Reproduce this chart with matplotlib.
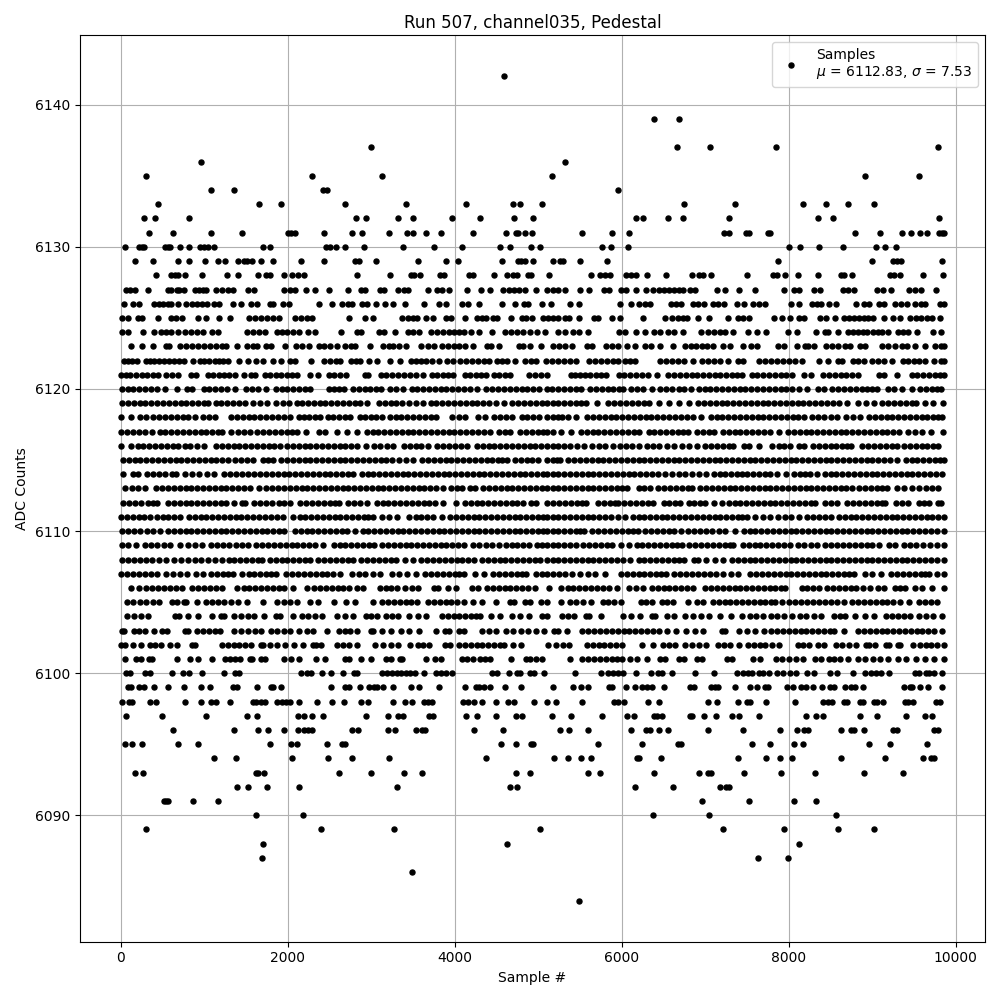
import matplotlib

# Headless backend
matplotlib.use("Agg")

import matplotlib.pyplot as plt

# Sample numbers, one list per ADC level
s_6142 = [4592]
s_6139 = [6384, 6684]
s_6137 = [2996, 6660, 7056, 7848, 9780]
s_6136 = [956, 5316]
s_6135 = [296, 2288, 3128, 5160, 8916, 9564]
s_6134 = [1076, 1352, 2420, 2468, 5952]
s_6133 = [440, 1652, 1916, 2684, 3416, 4136, 4700, 4784, 5048, 6744, 7356, 8172, 8448, 8712, 9024]
s_6132 = [272, 404, 812, 2816, 2936, 3320, 3500, 3968, 4304, 4712, 4940, 6168, 6252, 6552, 6732, 7284, 8352, 8532, 9792]
s_6131 = [332, 620, 1076, 1448, 2000, 2040, 2088, 2432, 2768, 2888, 3212, 3428, 3500, 3656, 3836, 4220, 4616, 4736, 4760, 4844, 4928,
          5520, 5880, 6084, 7224, 7284, 7492, 7524, 7752, 7780, 8796, 9096, 9360, 9468, 9576, 9660, 9792, 9832, 9856]
s_6130 = [56, 220, 248, 280, 532, 560, 588, 704, 812, 944, 992, 1040, 1112, 1700, 1784, 2456, 2504, 2576, 2684, 2912, 3380, 3752, 4088, 4544, 4664, 4916, 5024,
          5760, 5868, 6072, 8004, 8136, 8364, 8652, 9048, 9156, 9288]
s_6129 = [164, 380, 680, 812, 1004, 1160, 1244, 1400, 1472, 1508, 1568, 1676, 1820, 2156, 2432, 2804, 2852, 3056, 3560, 3896, 4040, 4568, 4760, 4796, 4844, 4940,
          5172, 5256, 5292, 5496, 5820, 7872, 9000, 9252, 9300, 9348, 9828]
s_6128 = [416, 596, 644, 680, 764, 968, 1268, 1400, 1640, 1736, 1784, 1952, 2048, 2120, 2192, 2828, 3224, 3476, 3512, 3584, 3824, 3872, 4172, 4220, 4472, 4628, 4700, 4748, 4880, 4916, 5132,
          5628, 5736, 5796, 5856, 6048, 6108, 6168, 6300, 6528, 6840, 6924, 6972, 7068, 7500, 7812, 7860, 7956, 8112, 8352, 8628, 8664, 8760, 9216, 9264, 9336, 9612, 9840]
s_6127 = [68, 116, 164, 320, 560, 596, 668, 692, 752, 884, 932, 980, 1016, 1136, 1208, 1280, 1340, 1520, 1592, 1952, 2024, 2084, 2212, 2324, 2492, 2720, 2876, 2924, 3104, 3152, 3320, 3392, 3440, 3680, 3788, 3848, 3932, 4148, 4316, 4424, 4580, 4652, 4712, 4772, 4844, 4976, 5108,
          5172, 5232, 5316, 5496, 5604, 5784, 5844, 5988, 6048, 6168, 6288, 6372, 6444, 6504, 6564, 6624, 6684, 6732, 6816, 6872, 7140, 7236, 7404, 7596, 7944, 8064, 8124, 8304, 8376, 8652, 8712, 8784, 9060, 9132, 9228, 9444, 9516, 9588, 9768]
s_6126 = [44, 152, 212, 392, 452, 500, 560, 596, 684, 776, 848, 908, 968, 1028, 1112, 1172, 1340, 1436, 1556, 1628, 1784, 1820, 1940, 2012, 2372, 2528, 2648, 2720, 2768, 2888, 2948, 3056, 3164, 3260, 3404, 3632, 3812, 3896, 4088, 4160, 4292, 4568, 4724, 4832, 4880, 5048,
          5148, 5376, 5484, 5976, 6108, 6204, 6276, 6336, 6588, 6648, 6708, 6852, 6912, 6984, 7092, 7152, 7224, 7380, 7464, 7572, 7644, 7716, 8028, 8124, 8280, 8340, 8388, 8484, 8568, 8808, 8904, 8964, 9084, 9144, 9276, 9348, 9420, 9516, 9588, 9636, 9804, 9852]
s_6125 = [20, 92, 200, 248, 440, 596, 656, 728, 920, 1016, 1172, 1304, 1532, 1604, 1676, 1748, 1820, 1892, 2084, 2156, 2228, 2288, 2732, 2924, 3020, 3368, 3440, 3500, 3548, 3656, 3740, 3896, 3956, 4124, 4268, 4328, 4376, 4460, 4508, 4676, 4808, 4856, 4928, 5060, 5120,
          5172, 5232, 5316, 5364, 5484, 5664, 5712, 5880, 5976, 6252, 6516, 6600, 6672, 6732, 6780, 6912, 7044, 7272, 7392, 7452, 7524, 7824, 7920, 8016, 8124, 8184, 8376, 8448, 8556, 8664, 8724, 8784, 8844, 8904, 8952, 9012, 9144, 9252, 9336, 9456, 9528, 9588, 9660, 9720, 9804]
s_6124 = [20, 92, 260, 392, 476, 536, 596, 680, 764, 836, 908, 980, 1088, 1160, 1508, 1580, 1652, 1724, 1868, 1928, 1988, 2060, 2132, 2240, 2324, 2636, 2828, 2876, 3092, 3152, 3284, 3440, 3500, 3572, 3716, 3788, 3860, 3932, 3992, 4052, 4112, 4196, 4292, 4448, 4604, 4676, 4748, 4820, 4904, 4988, 5084,
          5232, 5316, 5412, 5484, 5592, 5964, 6036, 6168, 6276, 6384, 6456, 6552, 6624, 6732, 6948, 7032, 7104, 7176, 7236, 7332, 7512, 7620, 7728, 7992, 8100, 8328, 8436, 8472, 8592, 8712, 8772, 8832, 8892, 8940, 9012, 9072, 9120, 9192, 9312, 9372, 9432, 9540, 9732, 9816]
s_6123 = [128, 248, 380, 536, 572, 704, 776, 848, 920, 992, 1064, 1136, 1208, 1256, 1388, 1508, 1580, 1628, 1736, 1796, 1964, 2096, 2168, 2252, 2372, 2432, 2504, 2584, 2684, 2756, 2804, 2984, 3140, 3212, 3260, 3332, 3416, 3596, 3680, 3752, 3848, 3920, 3992, 4052, 4124, 4220, 4388, 4436, 4532, 4772, 4820, 4904, 5036,
          5172, 5244, 5316, 5400, 5580, 5640, 5808, 5880, 5952, 6060, 6156, 6276, 6348, 6456, 6612, 6756, 6828, 6888, 6960, 7020, 7092, 7212, 7296, 7452, 7548, 7620, 7872, 7944, 8100, 8196, 8232, 8304, 8448, 8520, 8592, 8676, 8736, 8856, 8916, 9120, 9192, 9276, 9360, 9420, 9516, 9636, 9756, 9816, 9856]
s_6122 = [44, 92, 140, 188, 296, 344, 392, 452, 512, 572, 632, 692, 752, 860, 944, 992, 1052, 1124, 1172, 1220, 1280, 1412, 1520, 1616, 1700, 1820, 1916, 2024, 2084, 2276, 2432, 2504, 2576, 2620, 2756, 2816, 2864, 2972, 3068, 3224, 3344, 3476, 3536, 3596, 3656, 3728, 3812, 3908, 3980, 4064, 4136, 4208, 4280, 4352, 4412, 4508, 4568, 4628, 4724, 4844, 4916, 4976, 5096,
          5160, 5232, 5304, 5376, 5448, 5604, 5676, 5748, 5820, 5892, 5952, 6036, 6096, 6156, 6456, 6528, 6600, 6672, 6744, 6852, 6960, 7032, 7104, 7176, 7272, 7392, 7452, 7644, 7716, 7788, 7860, 7932, 8004, 8076, 8160, 8364, 8472, 8592, 8640, 8772, 8832, 8904, 9000, 9072, 9144, 9240, 9372, 9432, 9504, 9564, 9636, 9744, 9816, 9856]
s_6121 = [4, 60, 112, 184, 250, 316, 382, 448, 544, 616, 688, 836, 904, 1048, 1110, 1170, 1240, 1300, 1364, 1472, 1564, 1612, 1724, 1790, 1860, 1920, 1985, 2045, 2104, 2268, 2360, 2488, 2556, 2624, 2692, 2920, 2956, 3112, 3180, 3250, 3320, 3390, 3460, 3530, 3624, 3724, 3790, 3860, 3920, 3980, 4120, 4185, 4250, 4315, 4376, 4468, 4530, 4600, 4664, 4888, 4960, 5030, 5104,
          5388, 5440, 5500, 5560, 5620, 5690, 5750, 5808, 5960, 6030, 6100, 6170, 6240, 6310, 6416, 6548, 6620, 6700, 6770, 6840, 6900, 6970, 7040, 7110, 7180, 7250, 7320, 7380, 7436, 7556, 7620, 7690, 7760, 7830, 7900, 7970, 8036, 8180, 8264, 8408, 8480, 8550, 8620, 8690, 8760, 8832, 9080, 9144, 9300, 9472, 9540, 9610, 9680, 9750, 9810, 9856]
s_6120 = [16, 84, 150, 220, 290, 360, 430, 528, 668, 788, 852, 996, 1060, 1130, 1200, 1270, 1368, 1496, 1570, 1640, 1744, 1856, 1925, 1990, 2060, 2130, 2200, 2264, 2488, 2550, 2610, 2672, 2784, 2850, 2920, 2990, 3050, 3112, 3224, 3300, 3384, 3484, 3550, 3620, 3690, 3760, 3830, 3900, 3970, 4040, 4110, 4180, 4264, 4376, 4450, 4520, 4590, 4660, 4730, 4800, 4870, 4940, 5010, 5104,
          5168, 5240, 5310, 5380, 5450, 5516, 5616, 5690, 5760, 5830, 5900, 5960, 6016, 6108, 6180, 6250, 6356, 6456, 6530, 6600, 6680, 6750, 6824, 6920, 6990, 7060, 7130, 7200, 7270, 7340, 7410, 7480, 7550, 7620, 7690, 7760, 7830, 7900, 7970, 8040, 8116, 8216, 8348, 8416, 8516, 8590, 8660, 8730, 8800, 8870, 8940, 9000, 9056, 9188, 9256, 9360, 9480, 9568, 9640, 9710, 9770, 9824]
s_6119 = [16, 85, 155, 225, 295, 365, 435, 505, 575, 645, 715, 785, 855, 925, 995, 1044, 1136, 1205, 1275, 1345, 1415, 1484, 1588, 1670, 1756, 1864, 1940, 2016, 2104, 2170, 2240, 2310, 2380, 2450, 2520, 2590, 2660, 2730, 2800, 2864, 2948, 3088, 3160, 3230, 3300, 3370, 3448, 3536, 3616, 3712, 3780, 3850, 3920, 3990, 4060, 4130, 4200, 4270, 4340, 4404, 4488, 4584, 4688, 4760, 4830, 4900, 4970, 5040, 5104,
          5170, 5240, 5310, 5380, 5450, 5515, 5576, 5704, 5840, 5910, 5980, 6050, 6120, 6190, 6260, 6330, 6444, 6568, 6688, 6804, 6916, 6985, 7055, 7125, 7195, 7265, 7335, 7405, 7475, 7545, 7615, 7685, 7755, 7825, 7895, 7965, 8035, 8105, 8175, 8245, 8315, 8385, 8455, 8525, 8595, 8696, 8828, 8920, 9016, 9120, 9190, 9260, 9330, 9400, 9470, 9528, 9636, 9728, 9844]
s_6118 = [0, 124, 232, 304, 388, 460, 530, 600, 670, 740, 810, 884, 984, 1060, 1128, 1320, 1390, 1460, 1530, 1600, 1670, 1740, 1810, 1880, 1950, 2024, 2130, 2190, 2256, 2320, 2384, 2476, 2540, 2610, 2680, 2744, 2864, 2930, 3000, 3060, 3124, 3228, 3296, 3360, 3430, 3500, 3570, 3640, 3710, 3772, 3964, 4044, 4124, 4276, 4364, 4464, 4540, 4610, 4684, 4800, 4870, 4940, 5010, 5104,
          5170, 5240, 5288, 5360, 5448, 5584, 5655, 5725, 5795, 5865, 5935, 6005, 6075, 6145, 6215, 6285, 6355, 6425, 6495, 6565, 6635, 6705, 6775, 6856, 6948, 7064, 7135, 7205, 7275, 7345, 7415, 7485, 7555, 7625, 7695, 7765, 7835, 7905, 7975, 8045, 8115, 8176, 8276, 8350, 8425, 8500, 8576, 8688, 8770, 8856, 8960, 9030, 9100, 9170, 9240, 9310, 9380, 9450, 9520, 9590, 9660, 9730, 9790, 9836]
s_6117 = [4, 75, 145, 215, 290, 372, 464, 535, 605, 675, 745, 815, 885, 955, 1025, 1095, 1160, 1216, 1324, 1400, 1475, 1552, 1636, 1705, 1775, 1845, 1915, 1985, 2050, 2112, 2212, 2368, 2444, 2588, 2704, 2824, 2944, 3015, 3085, 3155, 3225, 3295, 3365, 3435, 3505, 3575, 3645, 3715, 3785, 3855, 3925, 3995, 4065, 4135, 4205, 4275, 4345, 4424, 4528, 4600, 4664, 4776, 4850, 4920, 4990, 5050, 5104,
          5176, 5268, 5388, 5508, 5580, 5650, 5720, 5790, 5860, 5930, 6000, 6070, 6140, 6208, 6320, 6390, 6460, 6530, 6600, 6670, 6730, 6792, 6896, 6970, 7040, 7108, 7208, 7280, 7350, 7420, 7490, 7560, 7630, 7700, 7776, 7880, 7988, 8060, 8130, 8200, 8270, 8340, 8410, 8480, 8550, 8620, 8690, 8760, 8830, 8900, 8970, 9040, 9110, 9180, 9250, 9320, 9428, 9510, 9596, 9704, 9848]
s_6116 = [4, 128, 200, 270, 340, 410, 480, 550, 620, 690, 764, 828, 916, 996, 1136, 1210, 1280, 1350, 1420, 1490, 1560, 1630, 1700, 1770, 1840, 1904, 1988, 2060, 2130, 2200, 2270, 2340, 2410, 2480, 2550, 2620, 2690, 2760, 2830, 2936, 3028, 3105, 3185, 3264, 3388, 3460, 3530, 3600, 3676, 3788, 3860, 3930, 4000, 4070, 4144, 4264, 4335, 4405, 4475, 4545, 4615, 4685, 4755, 4825, 4895, 4965, 5035, 5104,
          5170, 5240, 5310, 5376, 5468, 5550, 5640, 5724, 5796, 5900, 5975, 6050, 6125, 6200, 6296, 6376, 6450, 6540, 6628, 6720, 6810, 6896, 6992, 7070, 7140, 7210, 7280, 7336, 7460, 7528, 7640, 7796, 7880, 7940, 8008, 8120, 8184, 8288, 8360, 8430, 8500, 8570, 8640, 8700, 8748, 8876, 8950, 9020, 9090, 9160, 9230, 9296, 9376, 9450, 9520, 9590, 9660, 9730, 9788]
s_6115 = [24, 95, 165, 235, 305, 375, 445, 515, 585, 655, 725, 795, 865, 935, 1005, 1075, 1145, 1215, 1285, 1370, 1440, 1510, 1584, 1704, 1764, 1824, 1916, 1990, 2060, 2130, 2200, 2270, 2340, 2410, 2480, 2550, 2620, 2690, 2760, 2830, 2900, 2970, 3040, 3110, 3180, 3244, 3336, 3420, 3504, 3608, 3680, 3750, 3820, 3890, 3960, 4030, 4100, 4170, 4240, 4310, 4380, 4450, 4520, 4570, 4624, 4716, 4790, 4860, 4930, 5000, 5104,
          5170, 5220, 5264, 5360, 5430, 5500, 5570, 5640, 5710, 5780, 5850, 5920, 5990, 6060, 6130, 6200, 6270, 6340, 6410, 6480, 6550, 6620, 6690, 6760, 6830, 6900, 6970, 7040, 7110, 7180, 7250, 7320, 7390, 7460, 7530, 7600, 7670, 7740, 7810, 7880, 7950, 8020, 8090, 8160, 8230, 8300, 8370, 8440, 8510, 8580, 8650, 8720, 8790, 8860, 8930, 9000, 9070, 9140, 9210, 9296, 9400, 9470, 9540, 9610, 9680, 9750, 9810, 9856]
s_6114 = [32, 144, 204, 316, 385, 455, 524, 616, 656, 768, 855, 940, 1030, 1112, 1240, 1310, 1380, 1450, 1520, 1600, 1664, 1736, 1810, 1880, 1950, 2020, 2090, 2160, 2230, 2300, 2370, 2440, 2510, 2580, 2650, 2720, 2776, 2884, 2955, 3025, 3095, 3165, 3235, 3305, 3375, 3445, 3515, 3585, 3655, 3725, 3795, 3865, 3935, 4005, 4075, 4145, 4215, 4285, 4355, 4425, 4495, 4565, 4635, 4705, 4775, 4845, 4915, 4985, 5050, 5104,
          5170, 5240, 5310, 5380, 5450, 5520, 5590, 5660, 5730, 5800, 5870, 5940, 6010, 6080, 6150, 6220, 6290, 6360, 6436, 6516, 6600, 6680, 6760, 6840, 6925, 7008, 7100, 7170, 7240, 7310, 7380, 7440, 7496, 7568, 7640, 7710, 7776, 7856, 7968, 8064, 8130, 8195, 8256, 8340, 8428, 8500, 8570, 8640, 8710, 8780, 8850, 8920, 8990, 9060, 9130, 9200, 9270, 9340, 9410, 9480, 9550, 9620, 9690, 9760, 9836]
s_6113 = [48, 130, 210, 292, 424, 495, 565, 635, 705, 775, 845, 915, 985, 1055, 1125, 1195, 1265, 1335, 1405, 1475, 1545, 1652, 1744, 1815, 1885, 1955, 2025, 2095, 2165, 2235, 2305, 2375, 2445, 2515, 2585, 2655, 2725, 2795, 2865, 2935, 3005, 3075, 3145, 3215, 3285, 3355, 3425, 3495, 3565, 3635, 3705, 3775, 3856, 3952, 4020, 4084, 4184, 4236, 4336, 4410, 4480, 4550, 4620, 4690, 4760, 4830, 4900, 4970, 5040, 5104,
          5170, 5240, 5310, 5380, 5450, 5520, 5590, 5660, 5730, 5800, 5870, 5940, 6000, 6056, 6208, 6270, 6336, 6428, 6500, 6575, 6650, 6720, 6790, 6844, 6940, 7010, 7080, 7150, 7220, 7290, 7360, 7430, 7500, 7570, 7640, 7710, 7780, 7850, 7920, 7990, 8060, 8130, 8200, 8270, 8340, 8410, 8480, 8550, 8620, 8690, 8756, 8840, 8910, 8980, 9050, 9120, 9176, 9296, 9380, 9470, 9556, 9640, 9710, 9784]
s_6112 = [24, 95, 170, 245, 320, 380, 436, 564, 635, 705, 775, 845, 915, 985, 1055, 1125, 1195, 1265, 1356, 1456, 1492, 1600, 1670, 1740, 1815, 1890, 1960, 2032, 2148, 2220, 2290, 2360, 2430, 2500, 2570, 2616, 2716, 2790, 2870, 2944, 3064, 3135, 3205, 3275, 3345, 3415, 3485, 3555, 3625, 3695, 3765, 3864, 4012, 4120, 4190, 4260, 4330, 4400, 4470, 4540, 4610, 4680, 4750, 4816, 4916, 4972, 5104,
          5176, 5250, 5320, 5390, 5460, 5520, 5568, 5716, 5790, 5860, 5924, 5948, 6028, 6100, 6170, 6240, 6310, 6376, 6500, 6570, 6640, 6696, 6800, 6870, 6930, 6996, 7100, 7196, 7280, 7350, 7420, 7490, 7560, 7630, 7700, 7770, 7840, 7910, 7980, 8050, 8120, 8190, 8260, 8316, 8432, 8500, 8576, 8696, 8770, 8840, 8910, 8980, 9050, 9110, 9156, 9280, 9350, 9428, 9560, 9620, 9676, 9788, 9816]
s_6111 = [4, 75, 145, 215, 280, 344, 436, 505, 570, 635, 704, 816, 885, 955, 1025, 1095, 1165, 1235, 1305, 1375, 1445, 1515, 1585, 1655, 1725, 1795, 1865, 1944, 2068, 2140, 2210, 2280, 2350, 2420, 2490, 2560, 2630, 2700, 2770, 2840, 2910, 2965, 3024, 3128, 3215, 3304, 3456, 3530, 3600, 3670, 3744, 3844, 3944, 4015, 4085, 4155, 4225, 4295, 4365, 4435, 4505, 4575, 4645, 4715, 4785, 4855, 4925, 4995, 5050, 5104,
          5170, 5240, 5310, 5380, 5450, 5520, 5590, 5660, 5730, 5800, 5870, 5956, 6040, 6128, 6200, 6270, 6340, 6410, 6480, 6545, 6608, 6688, 6760, 6830, 6900, 6970, 7040, 7110, 7180, 7250, 7320, 7390, 7440, 7496, 7600, 7690, 7776, 7868, 7950, 8030, 8116, 8216, 8290, 8360, 8430, 8504, 8600, 8670, 8740, 8810, 8880, 8950, 9020, 9090, 9160, 9230, 9300, 9370, 9440, 9510, 9580, 9650, 9720, 9790, 9856]
s_6110 = [16, 90, 160, 235, 310, 385, 464, 564, 635, 705, 775, 845, 915, 985, 1055, 1125, 1195, 1265, 1335, 1405, 1475, 1545, 1615, 1685, 1755, 1825, 1895, 1952, 2084, 2155, 2225, 2295, 2365, 2435, 2505, 2575, 2645, 2704, 2804, 2896, 2965, 3035, 3105, 3175, 3245, 3315, 3385, 3455, 3525, 3595, 3665, 3735, 3805, 3875, 3945, 4015, 4085, 4155, 4225, 4295, 4365, 4435, 4505, 4575, 4645, 4715, 4785, 4855, 4925, 4995, 5050, 5104,
          5170, 5240, 5310, 5380, 5450, 5500, 5544, 5648, 5720, 5790, 5860, 5930, 6000, 6070, 6130, 6188, 6276, 6350, 6420, 6490, 6560, 6630, 6704, 6796, 6870, 6940, 7010, 7076, 7160, 7236, 7352, 7460, 7530, 7600, 7670, 7740, 7810, 7880, 7950, 8020, 8090, 8160, 8230, 8300, 8370, 8440, 8510, 8580, 8650, 8720, 8790, 8860, 8930, 9000, 9070, 9140, 9210, 9280, 9350, 9420, 9490, 9560, 9630, 9700, 9770, 9856]
s_6109 = [12, 88, 184, 284, 360, 435, 515, 592, 712, 808, 890, 976, 1084, 1155, 1225, 1300, 1375, 1450, 1524, 1624, 1695, 1765, 1835, 1905, 1975, 2045, 2115, 2185, 2255, 2325, 2424, 2548, 2620, 2690, 2760, 2830, 2900, 2970, 3032, 3128, 3200, 3270, 3340, 3410, 3480, 3550, 3620, 3690, 3760, 3830, 3900, 3970, 4040, 4104, 4216, 4290, 4370, 4445, 4524, 4608, 4680, 4750, 4820, 4884, 4984, 5044, 5104,
          5170, 5240, 5310, 5380, 5448, 5536, 5610, 5680, 5750, 5820, 5888, 5992, 6088, 6176, 6245, 6315, 6385, 6455, 6525, 6595, 6660, 6720, 6804, 6880, 6950, 7020, 7090, 7160, 7230, 7290, 7336, 7448, 7520, 7590, 7660, 7730, 7800, 7870, 7940, 8016, 8108, 8185, 8260, 8336, 8436, 8510, 8580, 8650, 8720, 8790, 8860, 8930, 9000, 9076, 9200, 9276, 9376, 9448, 9528, 9608, 9690, 9770, 9856]
s_6108 = [16, 90, 160, 230, 300, 375, 460, 544, 640, 720, 800, 885, 964, 1040, 1128, 1216, 1290, 1360, 1430, 1500, 1570, 1640, 1696, 1784, 1855, 1925, 1995, 2065, 2135, 2205, 2264, 2364, 2435, 2505, 2575, 2645, 2715, 2784, 2876, 2950, 3020, 3090, 3160, 3230, 3300, 3404, 3504, 3596, 3670, 3740, 3810, 3880, 3950, 4020, 4090, 4160, 4224, 4324, 4395, 4465, 4535, 4605, 4675, 4745, 4815, 4885, 4955, 5025, 5104,
          5170, 5240, 5310, 5380, 5450, 5520, 5590, 5660, 5730, 5800, 5870, 5940, 6010, 6096, 6200, 6270, 6340, 6410, 6480, 6550, 6620, 6685, 6748, 6860, 6916, 7012, 7120, 7216, 7320, 7390, 7460, 7530, 7600, 7670, 7740, 7810, 7880, 7950, 8020, 8090, 8160, 8230, 8300, 8370, 8440, 8510, 8580, 8650, 8720, 8790, 8860, 8930, 9000, 9070, 9140, 9210, 9280, 9350, 9420, 9490, 9560, 9630, 9700, 9770, 9856]
s_6107 = [4, 75, 145, 220, 295, 365, 432, 544, 625, 710, 796, 896, 990, 1084, 1148, 1224, 1285, 1344, 1456, 1530, 1600, 1670, 1740, 1800, 1864, 1984, 2055, 2125, 2195, 2265, 2335, 2405, 2475, 2545, 2624, 2768, 2850, 2930, 3020, 3104, 3248, 3335, 3424, 3532, 3648, 3720, 3790, 3860, 3930, 4000, 4050, 4104, 4236, 4344, 4456, 4530, 4600, 4670, 4740, 4800, 4852, 4976, 5040, 5104,
          5180, 5250, 5316, 5408, 5500, 5590, 5684, 5796, 5988, 6060, 6130, 6200, 6270, 6340, 6410, 6470, 6528, 6628, 6700, 6770, 6840, 6910, 6980, 7050, 7130, 7216, 7304, 7396, 7540, 7610, 7680, 7750, 7820, 7890, 7960, 8030, 8100, 8170, 8240, 8310, 8380, 8450, 8520, 8590, 8660, 8720, 8776, 8912, 9000, 9104, 9224, 9300, 9370, 9440, 9510, 9580, 9630, 9676, 9776, 9856]
s_6106 = [124, 216, 304, 375, 450, 520, 590, 660, 736, 848, 925, 1000, 1070, 1140, 1216, 1396, 1470, 1540, 1610, 1680, 1750, 1820, 1890, 1960, 2064, 2224, 2316, 2385, 2455, 2525, 2595, 2665, 2735, 2830, 2904, 3108, 3170, 3232, 3308, 3408, 3490, 3564, 3748, 3804, 3916, 4016, 4204, 4272, 4384, 4455, 4525, 4595, 4665, 4735, 4805, 4875, 4964, 5128,
          5276, 5350, 5420, 5490, 5560, 5630, 5700, 5770, 5850, 5944, 6080, 6165, 6256, 6360, 6430, 6500, 6570, 6640, 6710, 6780, 6856, 7000, 7070, 7140, 7210, 7280, 7350, 7420, 7490, 7560, 7630, 7700, 7770, 7840, 7900, 7956, 8152, 8220, 8290, 8356, 8456, 8530, 8600, 8670, 8740, 8810, 8890, 8976, 9068, 9136, 9268, 9330, 9396, 9508, 9592, 9712, 9856]
s_6105 = [76, 150, 225, 300, 380, 456, 608, 668, 752, 780, 912, 1024, 1095, 1165, 1240, 1320, 1404, 1508, 1704, 1876, 1950, 2030, 2104, 2268, 2356, 2552, 2692, 2804, 3016, 3128, 3200, 3270, 3340, 3410, 3480, 3544, 3676, 3750, 3820, 3890, 3960, 4030, 4104, 4220, 4324, 4488, 4656, 4704, 4836, 4904, 5036, 5104,
          5272, 5376, 5448, 5540, 5636, 5776, 5840, 5904, 5992, 6228, 6290, 6356, 6476, 6540, 6616, 6788, 6896, 6968, 7088, 7160, 7230, 7300, 7370, 7440, 7510, 7580, 7650, 7720, 7790, 7836, 7912, 8000, 8075, 8150, 8220, 8290, 8360, 8430, 8500, 8575, 8656, 8756, 8830, 8900, 8970, 9040, 9110, 9180, 9250, 9328, 9440, 9560, 9630, 9700, 9776]
s_6104 = [76, 160, 240, 320, 648, 696, 800, 920, 1088, 1204, 1240, 1360, 1440, 1520, 1600, 1712, 1864, 1904, 2068, 2164, 2240, 2320, 2404, 2584, 2680, 2776, 2936, 3000, 3064, 3176, 3245, 3316, 3456, 3555, 3652, 3844, 3915, 3985, 4055, 4125, 4190, 4250, 4304, 4432, 4544, 4680, 4785, 4888, 5040, 5104,
          5288, 5360, 5428, 5576, 5608, 5756, 6008, 6110, 6216, 6356, 6400, 6536, 6628, 6752, 6850, 6950, 7048, 7172, 7304, 7440, 7530, 7610, 7696, 7792, 7860, 7936, 8040, 8130, 8210, 8300, 8388, 8536, 8610, 8676, 8796, 8908, 9016, 9168, 9240, 9310, 9380, 9456, 9560, 9640, 9730, 9828]
s_6103 = [16, 40, 160, 220, 284, 392, 496, 552, 768, 804, 916, 990, 1060, 1130, 1184, 1360, 1445, 1525, 1605, 1684, 1796, 1870, 1950, 2024, 2132, 2228, 2304, 2472, 2608, 2680, 2750, 2824, 2992, 3016, 3128, 3240, 3352, 3456, 3568, 3772, 3884, 3936, 4048, 4104, 4328, 4410, 4492, 4616, 4700, 4790, 4876, 4976, 5064,
          5188, 5236, 5340, 5528, 5600, 5670, 5740, 5810, 5880, 5950, 6020, 6090, 6160, 6230, 6300, 6370, 6440, 6536, 6644, 6772, 6880, 6976, 7200, 7236, 7408, 7500, 7600, 7704, 7788, 7860, 7930, 8000, 8070, 8140, 8210, 8280, 8350, 8420, 8490, 8536, 8656, 8828, 8900, 8970, 9040, 9110, 9180, 9250, 9320, 9390, 9460, 9530, 9600, 9670, 9740, 9836]
s_6102 = [4, 56, 152, 240, 344, 404, 476, 584, 672, 848, 888, 1208, 1280, 1350, 1420, 1490, 1564, 1676, 1700, 1784, 1868, 1964, 2072, 2180, 2300, 2340, 2396, 2588, 2660, 2732, 2828, 3044, 3140, 3236, 3320, 3464, 3560, 3620, 3692, 3888, 3948, 4048, 4120, 4190, 4260, 4330, 4400, 4470, 4540, 4592, 4692, 4788, 5112,
          5216, 5290, 5368, 5588, 5660, 5730, 5790, 5860, 5930, 5996, 6240, 6372, 6488, 6560, 6636, 6752, 6840, 6924, 7008, 7148, 7220, 7296, 7404, 7508, 7580, 7650, 7720, 7796, 7884, 8108, 8170, 8236, 8348, 8416, 8568, 8640, 8716, 8808, 8928, 8956, 9036, 9168, 9196, 9308, 9328, 9488, 9570, 9640, 9700, 9770, 9856]
s_6101 = [56, 176, 244, 336, 376, 668, 824, 920, 1088, 1244, 1310, 1370, 1432, 1552, 1576, 1676, 1732, 1952, 2040, 2128, 2336, 2444, 2684, 2732, 2876, 2996, 3176, 3236, 3344, 3368, 3656, 3768, 3832, 4080, 4150, 4216, 4304, 4360, 4420, 4676, 4856, 4900, 4970, 5048,
          5376, 5528, 5600, 5670, 5740, 5810, 5880, 5940, 5996, 6100, 6176, 6300, 6456, 6516, 6684, 6744, 6900, 6960, 7260, 7320, 7572, 7656, 7848, 7920, 7996, 8088, 8172, 8308, 8390, 8476, 8544, 8616, 8708, 8832, 8916, 9008, 9096, 9184, 9312, 9408, 9528, 9628, 9744, 9856]
s_6100 = [60, 116, 284, 344, 608, 740, 812, 968, 1232, 1364, 1412, 2156, 2228, 2276, 2408, 2516, 2660, 2792, 2828, 3128, 3188, 3248, 3308, 3356, 3416, 3464, 3524, 3632, 3776, 3836, 3896, 3968, 4448, 4508, 4652, 4748, 4784, 4904, 4952, 5072,
          5436, 5748, 5832, 5892, 5952, 6012, 6168, 6348, 6432, 6480, 6600, 6876, 7104, 7380, 7452, 7512, 7560, 7644, 7692, 7764, 7860, 7932, 8016, 8088, 8220, 8304, 8496, 8580, 8772, 8916, 8988, 9048, 9108, 9204, 9516, 9564, 9648, 9684, 9744, 9828]
s_6099 = [92, 128, 212, 276, 392, 560, 752, 956, 1064, 1340, 1388, 1628, 1796, 1820, 1916, 2516, 2684, 2732, 2864, 2972, 3032, 3068, 3140, 3260, 3476, 3572, 3812, 4124, 4256, 4292, 4352, 4424, 4604, 4796,
          5172, 5412, 5508, 5592, 5844, 5880, 6052, 6156, 6240, 6300, 6360, 6504, 6816, 6864, 7068, 7116, 7152, 7356, 7536, 7620, 7716, 7752, 7980, 8052, 8148, 8208, 8292, 8400, 8496, 8544, 8676, 8748, 8796, 8892, 9384, 9456, 9480, 9576, 9672, 9828]
s_6098 = [20, 104, 140, 344, 416, 764, 956, 1076, 1136, 1304, 1580, 1616, 1676, 1724, 1868, 1928, 1976, 2024, 2132, 2348, 2528, 2672, 2876, 2960, 3260, 3404, 3488, 3632, 3680, 3728, 4100, 4160, 4232, 4324, 4496, 4640, 4712, 4952, 5108,
          5208, 5520, 5904, 5952, 6024, 6312, 6444, 7032, 7140, 7392, 7500, 7536, 7728, 8076, 8412, 8472, 8520, 8664, 8700, 8856, 8892, 9024, 9060, 9132, 9396, 9432, 9492, 9768, 9804]
s_6097 = [68, 488, 1016, 1508, 1628, 2120, 2192, 2288, 2420, 2936, 3200, 3320, 3380, 3692, 3740, 4136, 4268, 4496, 4736, 4808,
          5160, 5388, 5760, 6060, 6144, 6384, 6420, 6480, 6816, 6840, 6984, 7128, 7320, 7404, 7644, 8208, 8328, 8412, 8856, 9060, 9408, 9636, 9720]
s_6096 = [620, 1352, 1640, 1760, 1952, 2120, 2192, 2240, 2288, 2768, 2840, 3200, 3284, 3536, 3608, 3644, 4232, 4580,
          5256, 5364, 5592, 6108, 6288, 6336, 6444, 6552, 7032, 7452, 7896, 8100, 8184, 8232, 8628, 8748, 8784, 8904, 9252, 9300, 9744, 9780]
s_6095 = [56, 140, 248, 680, 920, 1784, 2036, 2108, 2468, 2648, 2684, 4556, 4736, 4916, 4940,
          5712, 6240, 6672, 6708, 7560, 7776, 8064, 8172, 8964, 9216, 9660]
s_6094 = [1112, 1376, 2048, 2480, 2768, 3212, 4376, 5184, 5352, 5508, 5628, 6180, 6204, 6468, 7392, 7728, 7896, 8040, 8628, 9156, 9612, 9708, 9744]
s_6093 = [164, 260, 1616, 1640, 1712, 2612, 2996, 3392, 3608, 4736, 4904, 5592, 5736, 6384, 6924, 7032, 7068, 7464, 7908, 8316, 8904, 9372]
s_6092 = [1388, 1520, 1748, 2132, 3308, 4664, 4748, 6156, 6612, 7176, 7248, 7284]
s_6091 = [512, 536, 560, 860, 1160, 6960, 7524, 8064, 8328]
s_6090 = [1616, 2180, 6372, 7044, 8568]
s_6089 = [296, 2396, 3272, 5024, 7212, 7944, 8592, 9024]
s_6088 = [1700, 4628, 8124]
s_6087 = [1688, 7632, 7992]
s_6086 = [3488]
s_6084 = [5484]

levels = {
    6142: s_6142, 6139: s_6139, 6137: s_6137, 6136: s_6136, 6135: s_6135, 6134: s_6134,
    6133: s_6133, 6132: s_6132, 6131: s_6131, 6130: s_6130, 6129: s_6129, 6128: s_6128,
    6127: s_6127, 6126: s_6126, 6125: s_6125, 6124: s_6124, 6123: s_6123, 6122: s_6122,
    6121: s_6121, 6120: s_6120, 6119: s_6119, 6118: s_6118, 6117: s_6117, 6116: s_6116,
    6115: s_6115, 6114: s_6114, 6113: s_6113, 6112: s_6112, 6111: s_6111, 6110: s_6110,
    6109: s_6109, 6108: s_6108, 6107: s_6107, 6106: s_6106, 6105: s_6105, 6104: s_6104,
    6103: s_6103, 6102: s_6102, 6101: s_6101, 6100: s_6100, 6099: s_6099, 6098: s_6098,
    6097: s_6097, 6096: s_6096, 6095: s_6095, 6094: s_6094, 6093: s_6093, 6092: s_6092,
    6091: s_6091, 6090: s_6090, 6089: s_6089, 6088: s_6088, 6087: s_6087, 6086: s_6086,
    6084: s_6084,
}

sample_no = []
adc = []
for level, samples in levels.items():
    sample_no.extend(samples)
    adc.extend([level] * len(samples))

mu = 6112.83
sigma = 7.53

plt.figure(figsize=(10, 10), dpi=100)
plt.plot(sample_no, adc, "k.", ms=7.2, label=f"Samples\n$\\mu$ = {mu:.2f}, $\\sigma$ = {sigma:.2f}")
plt.xlabel("Sample #")
plt.ylabel("ADC Counts")
plt.title("Run 507, channel035, Pedestal", pad=5.5)
plt.legend(loc="upper right")
plt.grid(True)
plt.tight_layout()
plt.subplots_adjust(top=0.9648)  # axes top sits a bit higher than tight_layout puts it
plt.savefig("out.png", dpi=100)
plt.close()
